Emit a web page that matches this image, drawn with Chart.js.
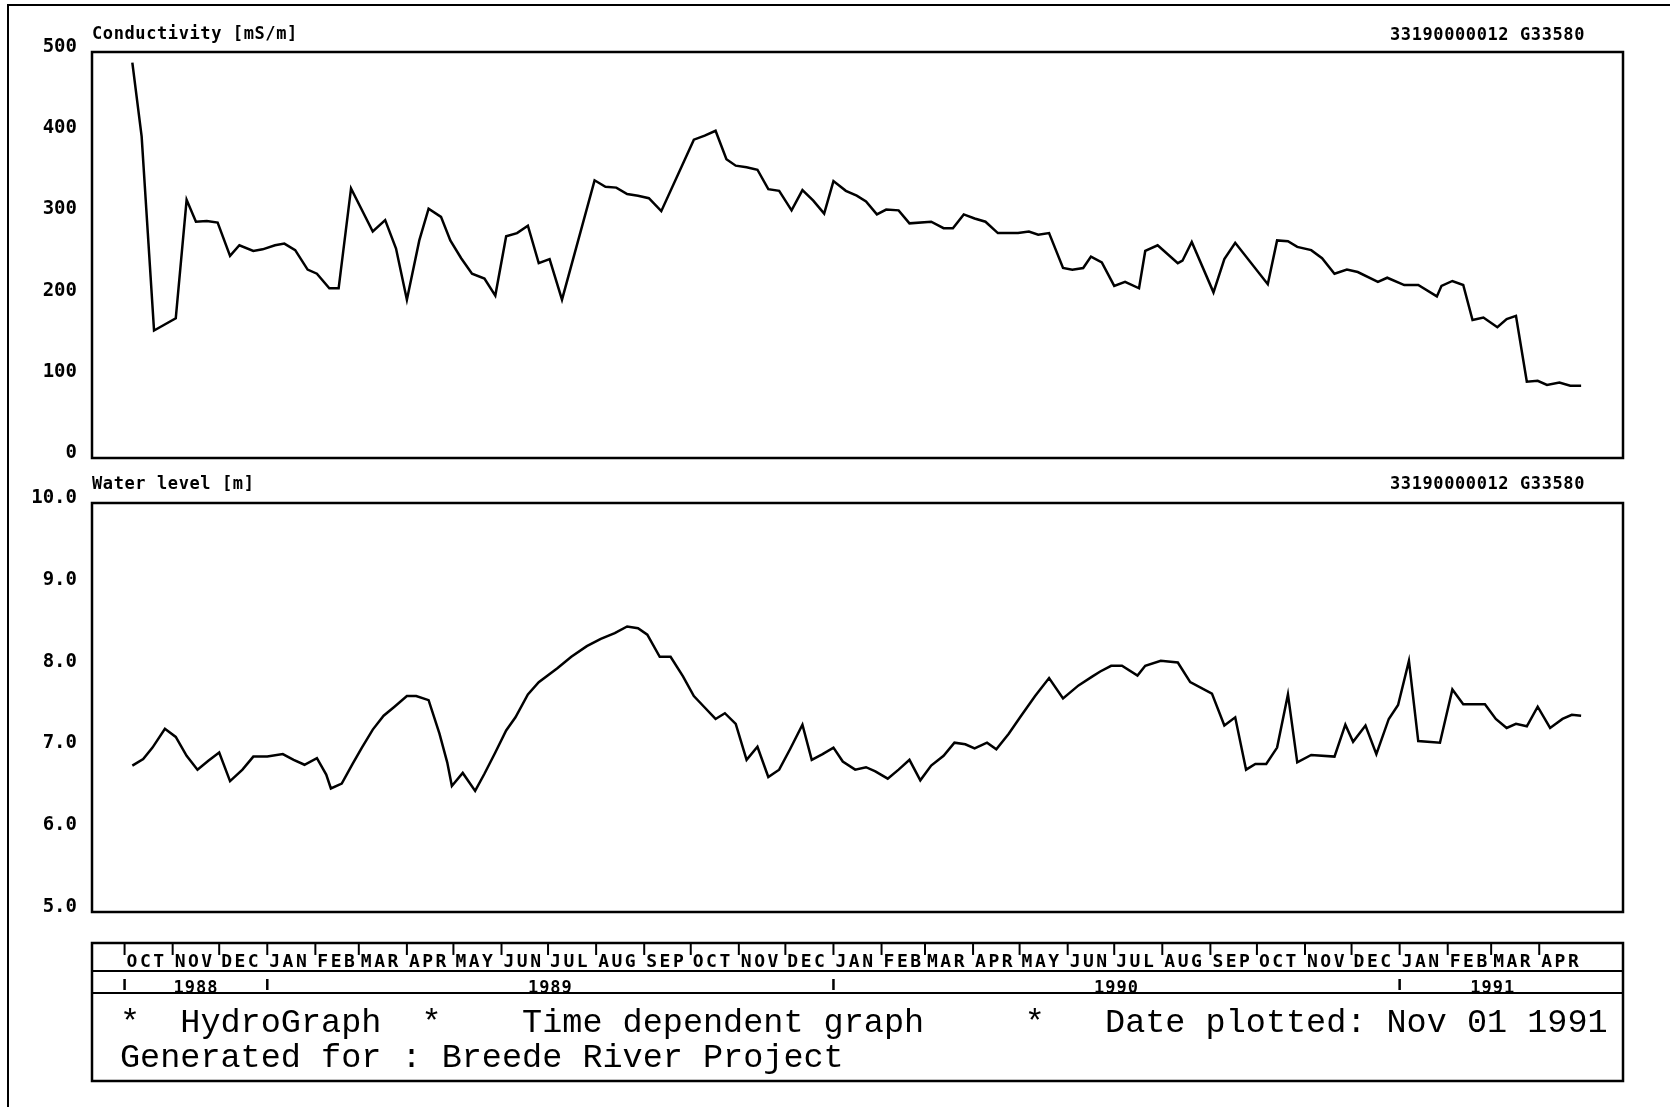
<!DOCTYPE html>
<html>
<head>
<meta charset="utf-8">
<title>HydroGraph - Breede River Project</title>
<script src="https://cdn.jsdelivr.net/npm/chart.js@4.4.1/dist/chart.umd.min.js"></script>
<style>
  html, body { margin: 0; padding: 0; background: #fff; }
  #page { position: relative; width: 1670px; height: 1107px; overflow: hidden; background: #fff; }
  #frame { position: absolute; left: 7px; top: 4px; width: 1700px; height: 1200px; border-left: 2.5px solid #000; border-top: 2.5px solid #000; }
  canvas { position: absolute; left: 0; }
  .lbl { position: absolute; font: bold 17px "DejaVu Sans Mono", monospace; letter-spacing: 0.6px; line-height: 20px; color: #000; white-space: pre; }
  .foot { position: absolute; left: 120px; font: 33.5px "Liberation Mono", monospace; line-height: 36px; color: #000; white-space: pre; }
</style>
</head>
<body>
<div id="page">
  <div id="frame"></div>
  <canvas id="condChart" width="1670" height="490" style="top:0px"></canvas>
  <canvas id="levelChart" width="1670" height="630" style="top:470px"></canvas>

  <div class="lbl" style="left:92px; top:23px;">Conductivity [mS/m]</div>
  <div class="lbl" style="right:85px; top:24px;">33190000012 G33580</div>
  <div class="lbl" style="left:92px; top:473px;">Water level [m]</div>
  <div class="lbl" style="right:85px; top:473px;">33190000012 G33580</div>

  <div class="foot" style="top:1005px;">*  HydroGraph  *    Time dependent graph     *   Date plotted: Nov 01 1991</div>
  <div class="foot" style="top:1040px;">Generated for : Breede River Project</div>
</div>

<script>
// sample days, counted from 1 Oct 1988
const condDays = [5, 11, 19, 33, 40, 46, 53, 60, 68, 74, 83, 89, 97, 103, 110, 118, 124, 132, 138, 146,
  160, 168, 175, 182, 190, 196, 204, 210, 217, 224, 232, 239, 246, 253, 260, 267, 274, 282, 303, 310,
  317, 324, 331, 338, 346, 367, 374, 381, 388, 394, 401, 408, 415, 422, 430, 437, 444, 451, 457, 465,
  472, 478, 485, 491, 499, 506, 520, 528, 534, 541, 548, 555, 563, 576, 583, 589, 596, 605, 611, 618,
  623, 630, 638, 645, 654, 658, 666, 679, 682, 688, 702, 709, 716, 737, 743, 750, 756, 765, 772, 780,
  788, 795, 808, 814, 825, 834, 846, 849, 856, 863, 869, 876, 885, 891, 897, 904, 911, 917, 925, 932, 939];
const condValues = [487, 396, 157, 172, 318, 291, 292, 290, 249, 262, 255, 257, 262, 264, 256, 232, 227, 209, 209, 332,
  279, 293, 258, 195, 268, 307, 297, 268, 246, 227, 221, 200, 273, 277, 286, 240, 245, 195, 342, 334,
  333, 325, 323, 320, 304, 392, 397, 403, 368, 360, 358, 355, 331, 329, 305, 330, 317, 301, 341, 329,
  323, 316, 300, 306, 305, 289, 291, 283, 283, 300, 295, 291, 277, 277, 279, 275, 277, 234, 232, 234,
  248, 241, 212, 217, 209, 255, 262, 240, 243, 266, 204, 245, 265, 214, 268, 267, 260, 256, 246, 227,
  232, 229, 217, 222, 213, 213, 199, 212, 218, 213, 170, 173, 161, 171, 175, 94, 95, 90, 93, 89, 89];

const levelDays = [5, 12, 18, 26, 33, 40, 47, 54, 61, 68, 76, 83, 92, 102, 109, 116, 124, 130, 133, 140,
  147, 153, 160, 167, 174, 182, 188, 196, 203, 208, 211, 218, 226, 232, 239, 246, 252, 260, 267, 279,
  288, 298, 307, 316, 324, 331, 337, 345, 352, 360, 367, 374, 381, 387, 394, 401, 408, 415, 422, 429,
  437, 443, 450, 457, 463, 471, 478, 484, 492, 499, 506, 513, 520, 528, 535, 542, 548, 556, 562, 570,
  578, 587, 596, 605, 615, 624, 629, 636, 643, 653, 658, 668, 679, 687, 701, 709, 716, 723, 729, 736,
  743, 750, 756, 765, 780, 787, 792, 800, 807, 815, 821, 828, 834, 848, 856, 863, 877, 884, 891, 897,
  904, 911, 919, 927, 933, 939];
const levelValues = [6.79, 6.87, 7.01, 7.24, 7.14, 6.91, 6.74, 6.85, 6.95, 6.60, 6.74, 6.90, 6.90, 6.93, 6.86, 6.80, 6.88, 6.68, 6.51, 6.57,
  6.81, 7.01, 7.23, 7.40, 7.51, 7.64, 7.64, 7.59, 7.18, 6.83, 6.54, 6.70, 6.48, 6.69, 6.95, 7.22, 7.38, 7.66, 7.81, 7.98,
  8.12, 8.25, 8.34, 8.41, 8.49, 8.47, 8.39, 8.12, 8.12, 7.88, 7.64, 7.50, 7.36, 7.43, 7.30, 6.86, 7.02, 6.65, 6.74, 6.99,
  7.29, 6.86, 6.93, 7.01, 6.84, 6.74, 6.77, 6.72, 6.63, 6.74, 6.86, 6.61, 6.79, 6.91, 7.07, 7.05, 7.00, 7.07, 6.99, 7.18,
  7.40, 7.64, 7.86, 7.61, 7.77, 7.88, 7.94, 8.01, 8.01, 7.89, 8.01, 8.07, 8.05, 7.81, 7.67, 7.28, 7.38, 6.74, 6.81, 6.81,
  7.01, 7.66, 6.83, 6.92, 6.90, 7.29, 7.08, 7.28, 6.93, 7.36, 7.53, 8.07, 7.09, 7.07, 7.72, 7.54, 7.54, 7.36, 7.25, 7.30,
  7.27, 7.51, 7.25, 7.36, 7.41, 7.40];

const monthLabels = ['OCT', 'NOV', 'DEC', 'JAN', 'FEB', 'MAR', 'APR', 'MAY', 'JUN', 'JUL', 'AUG', 'SEP',
  'OCT', 'NOV', 'DEC', 'JAN', 'FEB', 'MAR', 'APR', 'MAY', 'JUN', 'JUL', 'AUG', 'SEP',
  'OCT', 'NOV', 'DEC', 'JAN', 'FEB', 'MAR', 'APR'];
const yearLabels = ['1988', '1989', '1990', '1991'];
const condTicks = [0, 100, 200, 300, 400, 500];
const levelTicks = [5, 6, 7, 8, 9, 10];

const dayOf = (y, m) => (Date.UTC(y, m, 1) - Date.UTC(1988, 9, 1)) / 864e5;
const monthStarts = monthLabels.map((_, i) => dayOf(1988 + Math.floor((9 + i) / 12), (9 + i) % 12));
// year boundaries: start of record, Jan 1989, Jan 1990, Jan 1991, end of record
const yearEdges = [0, dayOf(1989, 0), dayOf(1990, 0), dayOf(1991, 0), dayOf(1991, 4)];

const xMin = -21, xMax = 966;
const tickFont = { family: 'DejaVu Sans Mono', size: 19, weight: 'bold' };

const frame = {
  id: 'frame',
  afterDatasetsDraw(chart) {
    const { ctx, chartArea: a } = chart;
    ctx.save();
    ctx.strokeStyle = '#000';
    ctx.lineWidth = 2.5;
    ctx.strokeRect(a.left, a.top, a.right - a.left, a.bottom - a.top);
    ctx.restore();
  }
};

// month / year strip under the water level plot
const timeStrip = {
  id: 'timeStrip',
  afterDraw(chart) {
    const { ctx, chartArea: a, scales: { x } } = chart;
    const top = a.bottom + 31, mid = top + 28, low = top + 50, bot = top + 138;
    const line = (x1, y1, x2, y2) => { ctx.beginPath(); ctx.moveTo(x1, y1); ctx.lineTo(x2, y2); ctx.stroke(); };
    ctx.save();
    ctx.strokeStyle = '#000';
    ctx.fillStyle = '#000';
    ctx.lineWidth = 2.5;
    ctx.strokeRect(a.left, top, a.right - a.left, bot - top);
    ctx.lineWidth = 2;
    line(a.left, mid, a.right, mid);
    line(a.left, low, a.right, low);

    ctx.font = 'bold 18px "DejaVu Sans Mono"';
    ctx.letterSpacing = '2.5px';
    ctx.textBaseline = 'middle';
    ctx.textAlign = 'left';
    monthLabels.forEach((m, i) => {
      const px = x.getPixelForValue(monthStarts[i]);
      line(px, top, px, top + 12);
      ctx.fillText(m, px + 2, top + 19);
    });

    ctx.font = 'bold 17px "DejaVu Sans Mono"';
    ctx.letterSpacing = '1px';
    ctx.textAlign = 'center';
    ctx.lineWidth = 2.5;
    yearLabels.forEach((yl, i) => {
      const p0 = x.getPixelForValue(yearEdges[i]);
      const p1 = x.getPixelForValue(yearEdges[i + 1]);
      line(p0, mid + 8, p0, mid + 19);
      ctx.fillText(yl, (p0 + p1) / 2, mid + 18);
    });
    ctx.restore();
  }
};

const makeChart = (id, days, values, ticks, yMin, yMax, fmt, padding, extra) => {
  const ctx = document.getElementById(id).getContext('2d');
  return new Chart(ctx, {
    type: 'line',
    data: {
      datasets: [{
        data: days.map((d, i) => ({ x: d, y: values[i] })),
        borderColor: '#000',
        borderWidth: 2.5,
        pointRadius: 0,
        tension: 0,
        fill: false
      }]
    },
    options: {
      responsive: false,
      animation: false,
      events: [],
      layout: { padding: padding },
      plugins: { legend: { display: false }, tooltip: { enabled: false } },
      scales: {
        x: { type: 'linear', min: xMin, max: xMax, display: false },
        y: {
          type: 'linear',
          min: yMin,
          max: yMax,
          afterFit: s => { s.width = 92; },
          afterBuildTicks: s => { s.ticks = ticks.map(v => ({ value: v })); },
          grid: { display: false, drawTicks: false },
          border: { display: false },
          ticks: {
            color: '#000',
            font: tickFont,
            padding: 15,
            labelOffset: -5,
            callback: fmt
          }
        }
      }
    },
    plugins: extra
  });
};

makeChart('condChart', condDays, condValues, condTicks, 0, 500, v => String(v),
  { top: 52, right: 47, bottom: 32, left: 0 }, [frame]);
makeChart('levelChart', levelDays, levelValues, levelTicks, 5, 10, v => v.toFixed(1),
  { top: 33, right: 47, bottom: 188, left: 0 }, [frame, timeStrip]);
</script>
</body>
</html>
